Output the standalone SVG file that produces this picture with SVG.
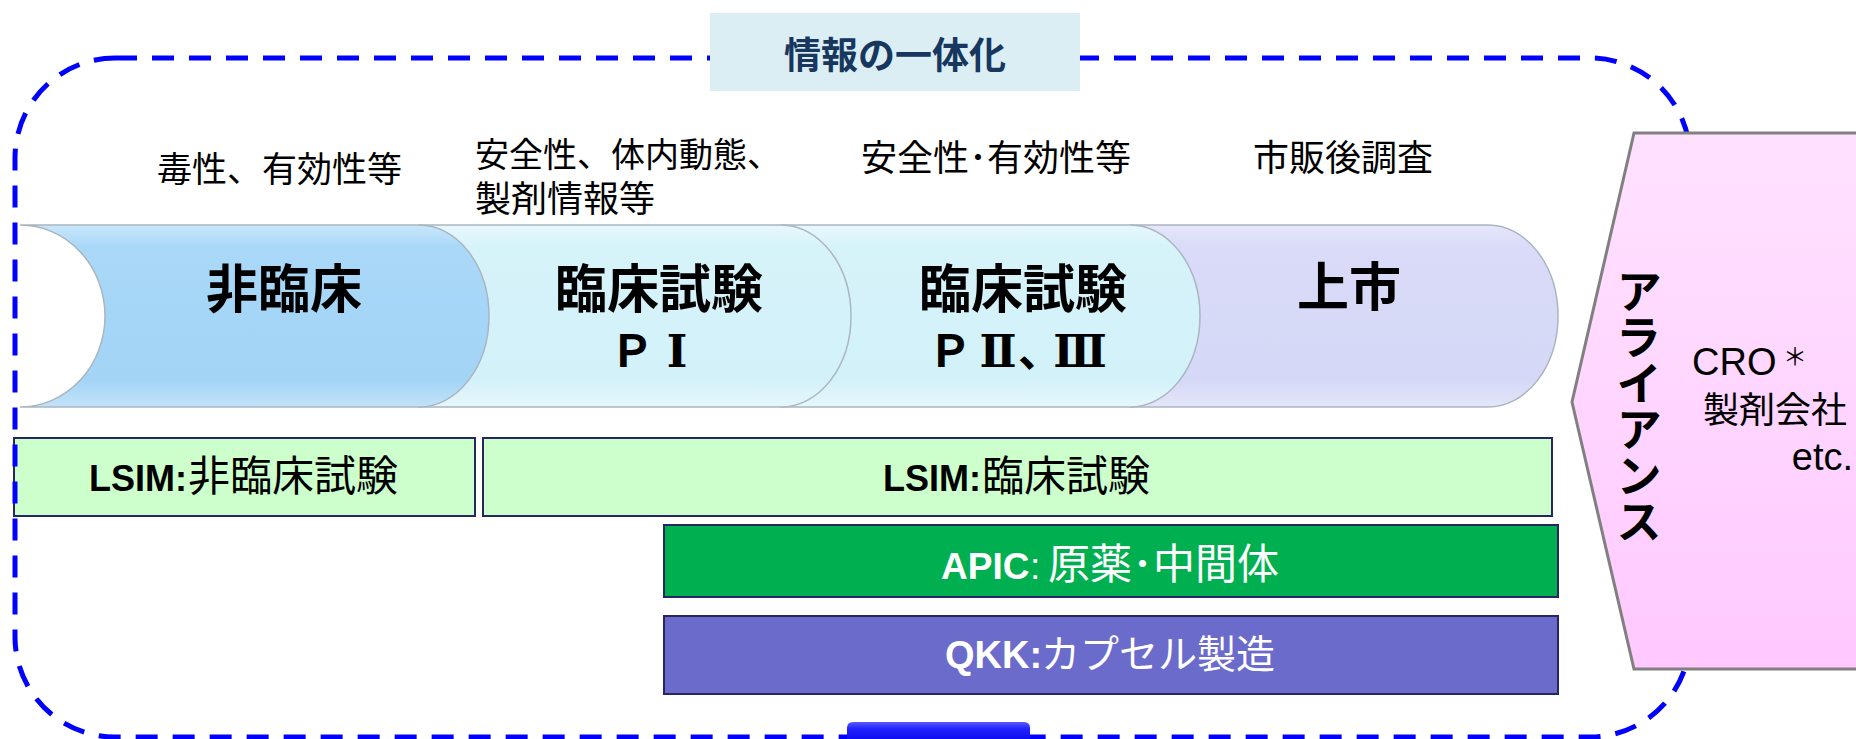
<svg xmlns="http://www.w3.org/2000/svg" width="1856" height="739" viewBox="0 0 1856 739">
<defs>
<style>
.jp{font-family:"Noto Sans CJK JP","Noto Sans CJK SC",sans-serif;}
.lat{font-family:"Liberation Sans","Noto Sans CJK JP",sans-serif;}
.rn{font-family:"DejaVu Serif","Liberation Serif","Noto Sans CJK JP",serif;font-weight:bold;}
.top{font-size:35px;fill:#000;}
.big{font-size:52px;font-weight:bold;fill:#000;}
.bar{stroke:#262660;stroke-width:2;}
.shape{stroke:#aab5c0;stroke-width:1.5;}
</style>
<linearGradient id="g1" x1="0" y1="0" x2="0" y2="1">
<stop offset="0" stop-color="#c9e7fb"/><stop offset="0.12" stop-color="#a9d8f8"/><stop offset="0.85" stop-color="#a3d4f6"/><stop offset="1" stop-color="#c2e3f9"/>
</linearGradient>
<linearGradient id="g2" x1="0" y1="0" x2="0" y2="1">
<stop offset="0" stop-color="#e8f8fc"/><stop offset="0.12" stop-color="#d6f3fa"/><stop offset="0.85" stop-color="#d3f1f9"/><stop offset="1" stop-color="#e6f7fb"/>
</linearGradient>
<linearGradient id="g4" x1="0" y1="0" x2="0" y2="1">
<stop offset="0" stop-color="#e6e7fb"/><stop offset="0.12" stop-color="#d9dbf8"/><stop offset="0.85" stop-color="#d5d8f6"/><stop offset="1" stop-color="#e4e6fa"/>
</linearGradient>
<linearGradient id="gp" x1="0" y1="0" x2="0" y2="1">
<stop offset="0" stop-color="#ffe2ff"/><stop offset="1" stop-color="#ffc9ff"/>
</linearGradient>
<linearGradient id="gb" x1="0" y1="0" x2="0" y2="1">
<stop offset="0" stop-color="#5a5aff"/><stop offset="0.3" stop-color="#2222ff"/><stop offset="1" stop-color="#0000e6"/>
</linearGradient>
</defs>
<rect width="1856" height="739" fill="#ffffff"/>

<g id="node-jouju">
<path class="shape" d="M1488,225 A70 91 0 0 1 1488,407 L1130,407 L1130,225 Z" fill="url(#g4)"/>
<text class="jp big" x="1349" y="306" text-anchor="middle">上市</text>
</g>
<g id="node-p23">
<path class="shape" d="M781,225 L1130,225 A70 91 0 0 1 1130,407 L781,407 Z" fill="url(#g2)"/>
<text text-anchor="middle"><tspan class="jp big" x="1023" y="308">臨床試験</tspan><tspan class="jp" x="950" y="367" font-size="44" font-weight="bold">Ｐ</tspan><tspan class="rn" x="998" y="367" font-size="44">Ⅱ</tspan><tspan class="jp" x="1040" y="367" font-size="44" font-weight="bold">、</tspan><tspan class="rn" x="1080" y="367" font-size="44">Ⅲ</tspan></text>
</g>
<g id="node-p1">
<path class="shape" d="M419,225 L781,225 A70 91 0 0 1 781,407 L419,407 Z" fill="url(#g2)"/>
<text text-anchor="middle"><tspan class="jp big" x="659" y="308">臨床試験</tspan><tspan class="jp" x="632" y="367" font-size="44" font-weight="bold">Ｐ</tspan><tspan class="rn" x="677" y="367" font-size="44">Ⅰ</tspan></text>
</g>
<g id="node-hirinsho">
<path class="shape" d="M20,225 L419,225 A70 91 0 0 1 419,407 L20,407 A85 91 0 0 0 20,225 Z" fill="url(#g1)"/>
<text class="jp big" x="284" y="308" text-anchor="middle">非臨床</text>
</g>

<g id="labels-top">
<text class="jp top" x="157" y="182">毒性、有効性等</text>
<text class="jp top"><tspan x="475" y="167" font-size="34">安全性、体内動態、</tspan><tspan x="475" y="212" font-size="36">製剤情報等</tspan></text>
<text class="jp top" x="861" y="171" style="font-size:36px">安全性･有効性等</text>
<text class="jp top" x="1253" y="171" style="font-size:36px">市販後調査</text>
</g>

<g id="node-lsim1">
<rect class="bar" x="14" y="438" width="461" height="78" fill="#ccffcc"/>
<text y="491"><tspan class="lat" x="89" font-size="36" font-weight="bold">LSIM:</tspan><tspan class="jp" x="188" font-size="42">非臨床試験</tspan></text>
</g>
<g id="node-lsim2">
<rect class="bar" x="483" y="438" width="1069" height="78" fill="#ccffcc"/>
<text y="491"><tspan class="lat" x="883" font-size="36" font-weight="bold">LSIM:</tspan><tspan class="jp" x="982" font-size="42">臨床試験</tspan></text>
</g>
<g id="node-apic">
<rect class="bar" x="664" y="525" width="894" height="72" fill="#00b050"/>
<text y="579" fill="#ffffff"><tspan class="lat" x="941" font-size="37" font-weight="bold">APIC</tspan><tspan class="lat" x="1030" font-size="37">:</tspan><tspan class="jp" x="1048" font-size="42">原薬･中間体</tspan></text>
</g>
<g id="node-qkk">
<rect class="bar" x="664" y="616" width="894" height="78" fill="#6b6bcb"/>
<text y="668" fill="#ffffff"><tspan class="lat" x="945" font-size="38" font-weight="bold">QKK:</tspan><tspan class="jp" x="1041" font-size="39">カプセル製造</tspan></text>
</g>

<g id="connectors">
<rect x="15" y="58" width="1675" height="679" rx="100" ry="100" fill="none" stroke="#0000ff" stroke-width="5" stroke-dasharray="22 15"/>
</g>

<g id="node-info">
<rect x="710" y="13" width="370" height="78" fill="#daeef3"/>
<text class="jp" x="895" y="69" text-anchor="middle" font-size="37" font-weight="bold" fill="#17375e">情報の一体化</text>
</g>

<g id="node-alliance">
<polygon points="1634,133 1862,133 1862,669 1634,669 1572,402" fill="url(#gp)" stroke="#808080" stroke-width="3"/>
<text class="jp" x="1639" y="268" font-size="46" font-weight="bold" writing-mode="vertical-rl" fill="#000">アライアンス</text>
<text y="375" font-size="38"><tspan class="lat" x="1692">CRO</tspan><tspan class="jp" x="1795" y="365" font-size="24" text-anchor="middle">＊</tspan></text>
<text class="jp" x="1703" y="423" font-size="36">製剤会社</text>
<text class="lat" x="1853" y="470" font-size="38" text-anchor="end">etc.</text>
</g>

<g id="node-bottom-arrow">
<path d="M847,745 L847,728 Q847,722 853,722 L1024,722 Q1030,722 1030,728 L1030,745 Z" fill="url(#gb)"/>
</g>
</svg>
